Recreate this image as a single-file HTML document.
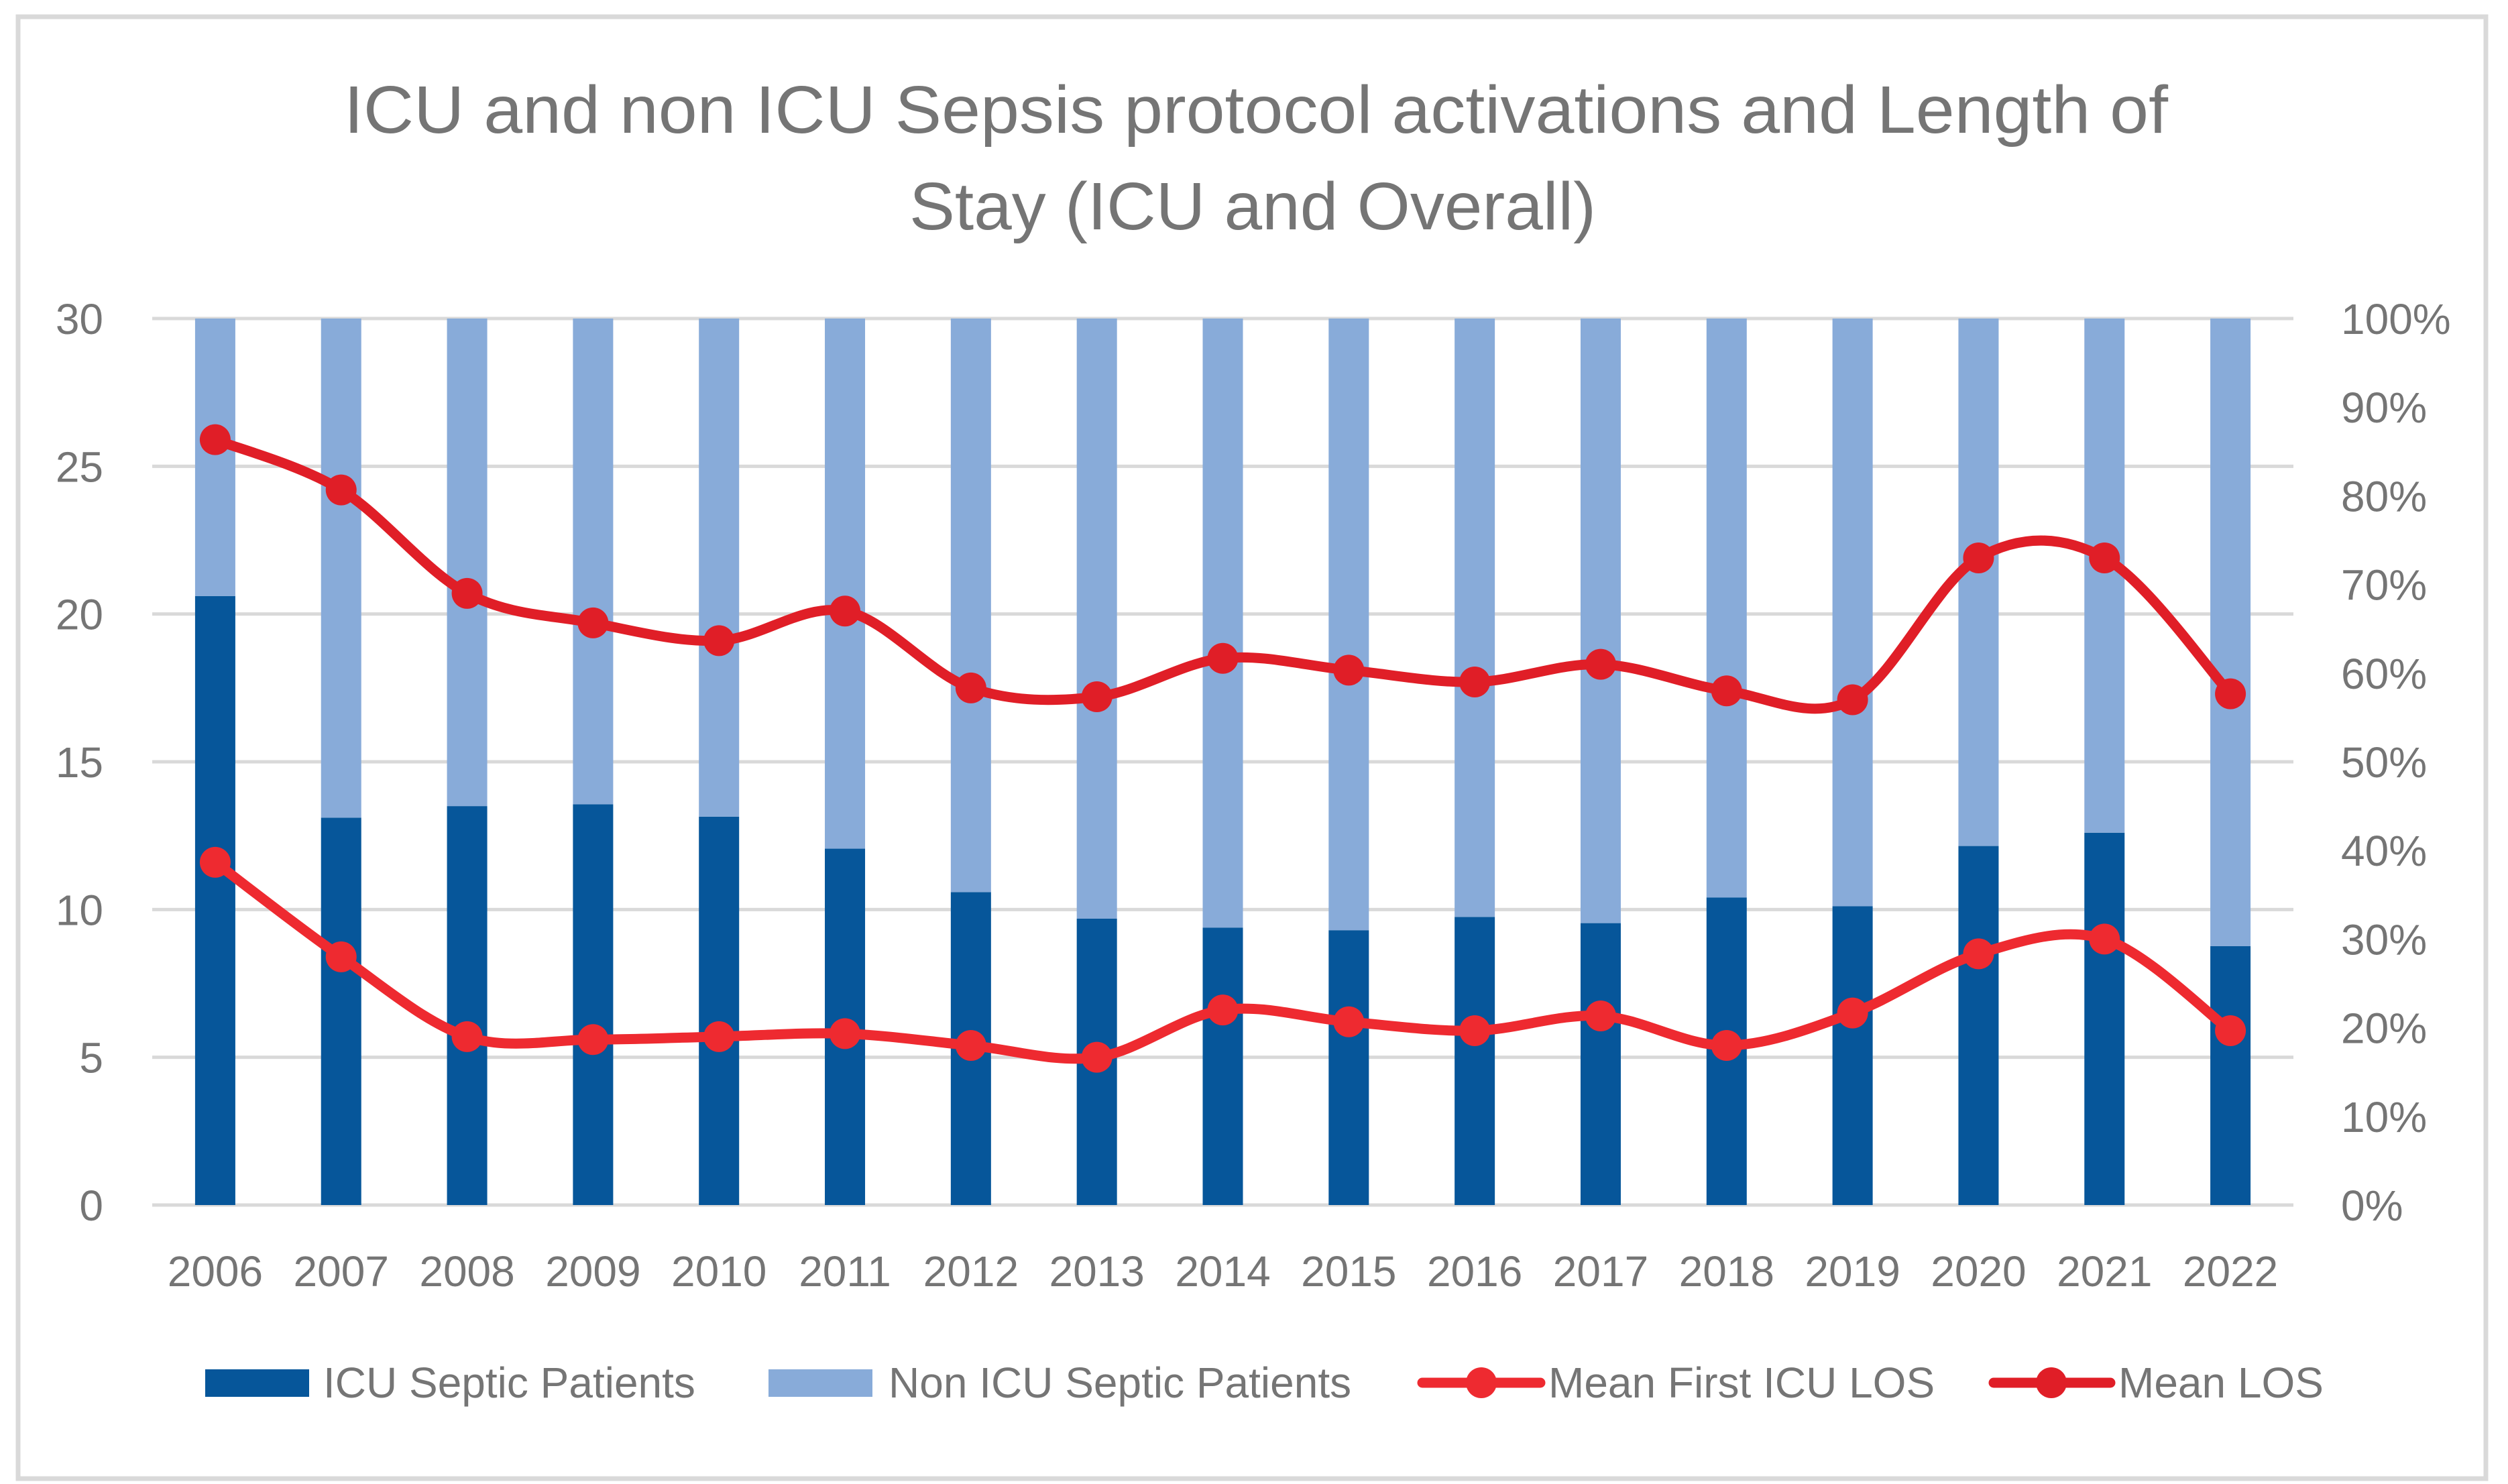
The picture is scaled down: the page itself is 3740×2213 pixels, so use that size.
<!DOCTYPE html>
<html><head><meta charset="utf-8"><style>html,body{margin:0;padding:0;background:#fff}svg{display:block}</style></head>
<body>
<svg id="chart" width="3740" height="2213" viewBox="0 0 3740 2213" xmlns="http://www.w3.org/2000/svg" font-family="'Liberation Sans', sans-serif">
<rect x="27" y="25" width="3680" height="2180" fill="#fff" stroke="#d9d9d9" stroke-width="7"/>
<text x="1873" y="198" font-size="100" fill="#757575" text-anchor="middle" textLength="2720" lengthAdjust="spacingAndGlyphs">ICU and non ICU Sepsis protocol activations and Length of</text>
<text x="1868" y="342" font-size="100" fill="#757575" text-anchor="middle" textLength="1024" lengthAdjust="spacingAndGlyphs">Stay (ICU and Overall)</text>
<g id="grid"></g>
<g id="bars"></g>
<g id="lines"></g>
<g id="axes"></g>
<g id="legend">
  <rect x="306" y="2042" width="155" height="41" fill="#06569a"/>
  <text x="482" y="2084" font-size="64" fill="#757575">ICU Septic Patients</text>
  <rect x="1146" y="2042" width="155" height="41" fill="#88abd9"/>
  <text x="1325" y="2084" font-size="64" fill="#757575">Non ICU Septic Patients</text>
  <line x1="2121" y1="2062" x2="2297" y2="2062" stroke="#ee2a30" stroke-width="15" stroke-linecap="round"/>
  <circle cx="2209" cy="2062" r="23" fill="#ee2a30"/>
  <text x="2309" y="2084" font-size="64" fill="#757575">Mean First ICU LOS</text>
  <line x1="2973" y1="2062" x2="3147" y2="2062" stroke="#e01e27" stroke-width="15" stroke-linecap="round"/>
  <circle cx="3059" cy="2062" r="23" fill="#e01e27"/>
  <text x="3159" y="2084" font-size="64" fill="#757575">Mean LOS</text>
</g>
</svg>
<script>
const years = ["2006","2007","2008","2009","2010","2011","2012","2013","2014","2015","2016","2017","2018","2019","2020","2021","2022"];
const icuShare = [68.7,43.7,45.0,45.2,43.8,40.2,35.3,32.3,31.3,31.0,32.5,31.8,34.7,33.7,40.5,42.0,29.2];
const nonIcuShare = [31.3,56.3,55.0,54.8,56.2,59.8,64.7,67.7,68.7,69.0,67.5,68.2,65.3,66.3,59.5,58.0,70.8];
const meanLos = [25.9,24.2,20.7,19.7,19.1,20.1,17.5,17.2,18.5,18.1,17.7,18.3,17.4,17.1,21.9,21.9,17.3];
const meanFirstIcuLos = [11.6,8.4,5.7,5.6,5.7,5.8,5.4,5.0,6.6,6.2,5.9,6.4,5.4,6.5,8.5,9.0,5.9];
const leftTicks = [0,5,10,15,20,25,30];
const rightTicks = [0,10,20,30,40,50,60,70,80,90,100];

const NS="http://www.w3.org/2000/svg";
const X0=227,X1=3420,Y0=1797,Y1=475;
const band=(X1-X0)/years.length;
const xc=i=>X0+band*(i+0.5);
const yL=v=>Y0-(v/30)*(Y0-Y1);
const yR=v=>Y0-(v/100)*(Y0-Y1);
function mk(tag,attrs,parent,txt){const e=document.createElementNS(NS,tag);for(const k in attrs)e.setAttribute(k,attrs[k]);if(txt!==undefined)e.textContent=txt;parent.appendChild(e);return e;}
const grid=document.getElementById('grid'),bars=document.getElementById('bars'),lines=document.getElementById('lines'),axes=document.getElementById('axes');
leftTicks.forEach(t=>{
  const l=mk('line',{x1:X0,x2:X1,y1:yL(t),y2:yL(t),stroke:'#d9d9d9','stroke-width':5},grid);
  
  
  const tx=mk('text',{x:154,y:yL(t)+23,'font-size':64,fill:'#757575','text-anchor':'end'},axes,String(t));
  
  
});
rightTicks.forEach(t=>{
  const tx=mk('text',{x:3491,y:yR(t)+23,'font-size':64,fill:'#757575'},axes,t+'%');
  
  
});
const bw=60;
years.forEach((yr,i)=>{
  const a=mk('rect',{x:xc(i)-bw/2,y:yR(icuShare[i]),width:bw,height:Y0-yR(icuShare[i]),fill:'#06569a'},bars);
  
  
  const top=icuShare[i]+nonIcuShare[i];
  const b=mk('rect',{x:xc(i)-bw/2,y:yR(top),width:bw,height:yR(icuShare[i])-yR(top),fill:'#88abd9'},bars);
  
  
  const tx=mk('text',{x:xc(i),y:1918,'font-size':64,fill:'#757575','text-anchor':'middle'},axes,yr);
  
  
});
function smooth(pts){
  let d='M'+pts[0][0]+','+pts[0][1];
  for(let i=0;i<pts.length-1;i++){
    const p0=pts[i-1]||pts[i],p1=pts[i],p2=pts[i+1],p3=pts[i+2]||p2;
    const c1=[p1[0]+(p2[0]-p0[0])/6,p1[1]+(p2[1]-p0[1])/6];
    const c2=[p2[0]-(p3[0]-p1[0])/6,p2[1]-(p3[1]-p1[1])/6];
    d+=' C'+c1+' '+c2+' '+p2;
  }
  return d;
}
function series(vals,color,name){
  const pts=vals.map((v,i)=>[xc(i),yL(v)]);
  const p=mk('path',{d:smooth(pts),fill:'none',stroke:color,'stroke-width':15,'stroke-linecap':'round'},lines);
  
  
  pts.forEach((pt,i)=>{
    const c=mk('circle',{cx:pt[0],cy:pt[1],r:23,fill:color},lines);
    
    
  });
}
series(meanFirstIcuLos,'#ee2a30','mean-first-icu-los');
series(meanLos,'#e01e27','mean-los');
</script>
</body></html>
